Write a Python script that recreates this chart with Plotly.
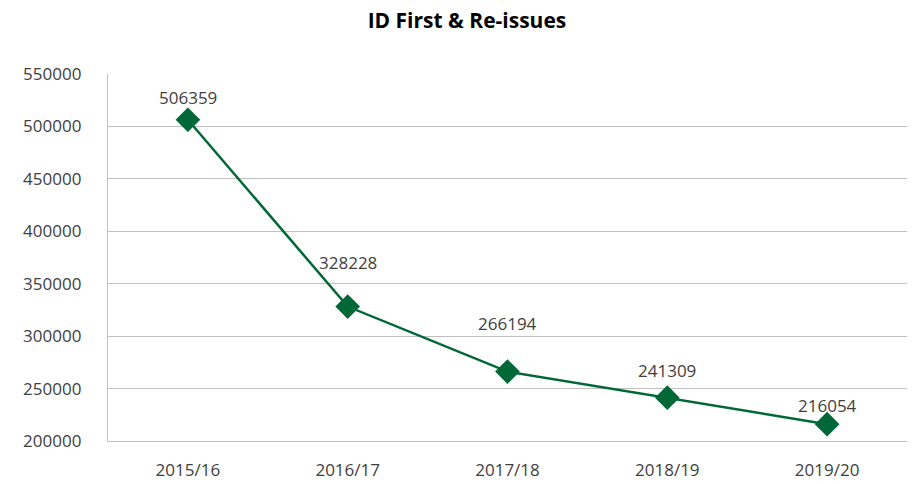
import plotly.graph_objects as go

years = ["2015/16", "2016/17", "2017/18", "2018/19", "2019/20"]
issues = [506359, 328228, 266194, 241309, 216054]
y_ticks = [200000, 250000, 300000, 350000, 400000, 450000, 500000, 550000]

label_shift = [22, 44, 48, 27, 19]

GREEN = "#006837"
FONT = "Open Sans, Noto Sans, sans-serif"

fig = go.Figure()
fig.add_trace(go.Scatter(
    x=years, y=issues, mode="lines+markers",
    line=dict(color=GREEN, width=2.5),
    marker=dict(symbol="diamond", size=19, color=GREEN),
    hoverinfo="x+y", showlegend=False,
))
for x, y, s in zip(years, issues, label_shift):
    fig.add_annotation(x=x, y=y, text=str(y), showarrow=False, yshift=s,
                       font=dict(family=FONT, size=17, color="#404040"))

fig.update_layout(
    width=912, height=484,
    margin=dict(l=108, r=5, t=74, b=43),
    paper_bgcolor="white", plot_bgcolor="white",
    title=dict(text="<b>ID First & Re-issues</b>", x=0.512, xanchor="center",
               y=0.958, yanchor="middle", automargin=False,
               font=dict(family=FONT, size=21, color="#000000")),
    font=dict(family=FONT, size=17, color="#404040"),
    xaxis=dict(showgrid=False, showline=True, linecolor="#c0c0c0", linewidth=1.3,
               ticks="", zeroline=False, automargin=False,
               range=[-0.5, 4.5], tickfont=dict(size=17, color="#404040"),
               ticklabelstandoff=13),
    yaxis=dict(range=[200000, 550000], tickvals=y_ticks,
               ticktext=[str(v) for v in y_ticks],
               showgrid=True, gridcolor="#c0c0c0", gridwidth=1.3,
               showline=True, linecolor="#c0c0c0", linewidth=1.3,
               zeroline=False, ticks="", ticklabelstandoff=22, automargin=False,
               tickfont=dict(size=17, color="#404040")),
)
fig.write_html("out.html", config={"displayModeBar": False},
               post_script="document.body.style.margin='0';document.body.style.overflow='hidden';")
